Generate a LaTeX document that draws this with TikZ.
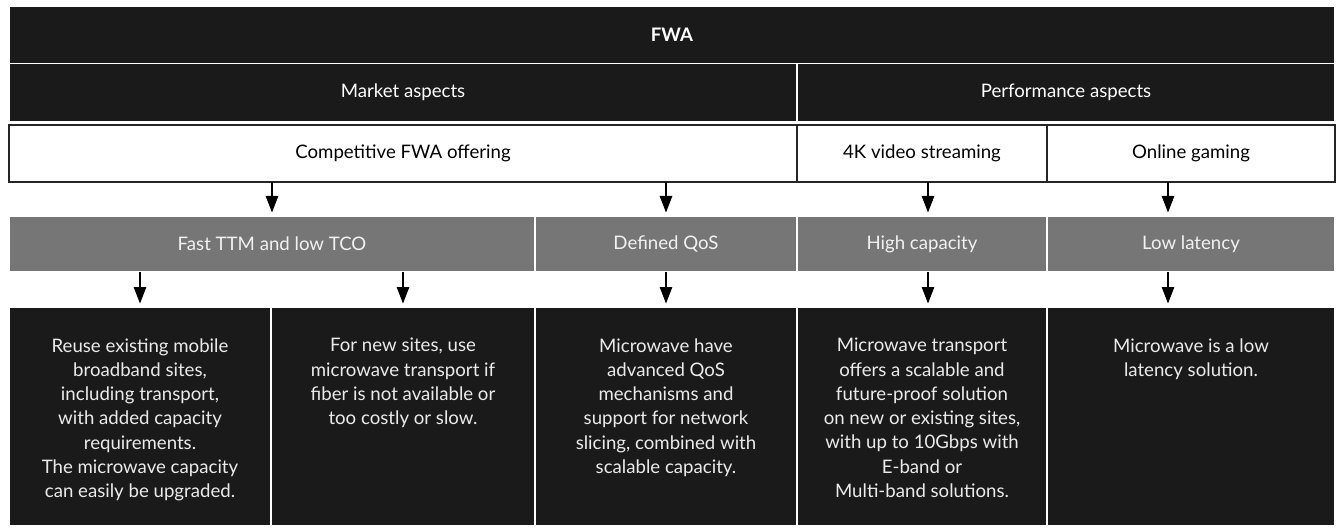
\documentclass[tikz,border=0pt]{standalone}
\usepackage{fontspec}
\setmainfont{Lato}
\usetikzlibrary{positioning,arrows.meta}

\definecolor{cellblack}{HTML}{1A1A1A}
\definecolor{cellgray}{HTML}{767676}

\begin{document}
\begin{tikzpicture}[font=\fontsize{10.6}{13.8}\selectfont,
  cell/.style={draw=white, line width=0.7pt, fill=#1, inner sep=0pt,
               outer sep=0pt, align=center},
  head/.style={cell=cellblack, text=white, minimum height=1.15cm},
  topic/.style={draw=black!85, line width=0.6pt, fill=white, inner sep=0pt,
               outer sep=0pt, minimum height=1.14cm},
  need/.style={cell=cellgray, text=white!95!black, minimum height=1.12cm},
  answer/.style={cell=cellblack, minimum height=4.38cm},
  desc/.style={text=white!92!black, align=center, inner sep=0pt},
  arr/.style={-{Triangle[width=0.25cm,length=0.33cm]}, line width=0.6pt,
              shorten >=0.07cm}
]
  \useasboundingbox (0,0) rectangle (26.88,-10.6);

  % header rows
  \node[head, minimum width=26.52cm] (fwa) at (13.44,-0.70)
        {\textbf{FWA}};
  \node[head, minimum width=15.76cm] (market) at (8.06,-1.85)
        {Market aspects};
  \node[head, minimum width=10.76cm] (perf) at (21.32,-1.85)
        {Performance aspects};

  % what is offered
  \node[topic, minimum width=15.76cm] (comp) at (8.06,-3.07)
        {Competitive FWA offering};
  \node[topic, minimum width=5.00cm] (video) at (18.44,-3.07)
        {4K video streaming};
  \node[topic, minimum width=5.76cm] (gaming) at (23.82,-3.07)
        {Online gaming};

  % what it needs
  \node[need, minimum width=10.52cm] (fast) at (5.44,-4.88)
        {Fast TTM and low TCO};
  \node[need, minimum width=5.24cm] (qos) at (13.32,-4.88)
        {Defined QoS};
  \node[need, minimum width=5.00cm] (high) at (18.44,-4.88)
        {High capacity};
  \node[need, minimum width=5.76cm] (low) at (23.82,-4.88)
        {Low latency};

  % how microwave answers
  \node[answer, minimum width=5.24cm] (reuse) at (2.80,-8.33) {};
  \node[answer, minimum width=5.28cm] (newsite) at (8.06,-8.33) {};
  \node[answer, minimum width=5.24cm] (slicing) at (13.32,-8.33) {};
  \node[answer, minimum width=5.00cm] (scale) at (18.44,-8.33) {};
  \node[answer, minimum width=5.76cm] (latency) at (23.82,-8.33) {};

  \node[desc, below=0.62cm of reuse.north] (treuse)
        {Reuse existing mobile\\ broadband sites,\\ including transport,\\
         with added capacity\\ requirements.\\ The microwave capacity\\
         can easily be upgraded.};
  \node[desc, below=0.62cm of newsite.north] (tnewsite)
        {For new sites, use\\ microwave transport if\\
         fiber is not available or\\ too costly or slow.};
  \node[desc, below=0.62cm of slicing.north] (tslicing)
        {Microwave have\\ advanced QoS\\ mechanisms and\\
         support for network\\ slicing, combined with\\ scalable capacity.};
  \node[desc, below=0.62cm of scale.north] (tscale)
        {Microwave transport\\ offers a scalable and\\ future-proof solution\\
         on new or existing sites,\\ with up to 10Gbps with\\ E-band or\\
         Multi-band solutions.};
  \node[desc, below=0.62cm of latency.north] (tlatency)
        {Microwave is a low\\ latency solution.};

  \draw[arr] (comp.south -| fast.north) -- (fast.north);
  \draw[arr] (comp.south -| qos.north) -- (qos.north);
  \draw[arr] ([xshift=0.12cm]video.south) -- ([xshift=0.12cm]high.north);
  \draw[arr] ([xshift=-0.46cm]gaming.south) -- ([xshift=-0.46cm]low.north);

  \draw[arr] (fast.south -| reuse.north) -- (reuse.north);
  \draw[arr] (fast.south -| newsite.north) -- (newsite.north);
  \draw[arr] (qos.south) -- (slicing.north);
  \draw[arr] ([xshift=0.12cm]high.south) -- ([xshift=0.12cm]scale.north);
  \draw[arr] ([xshift=-0.46cm]low.south) -- ([xshift=-0.46cm]latency.north);
\end{tikzpicture}
\end{document}
